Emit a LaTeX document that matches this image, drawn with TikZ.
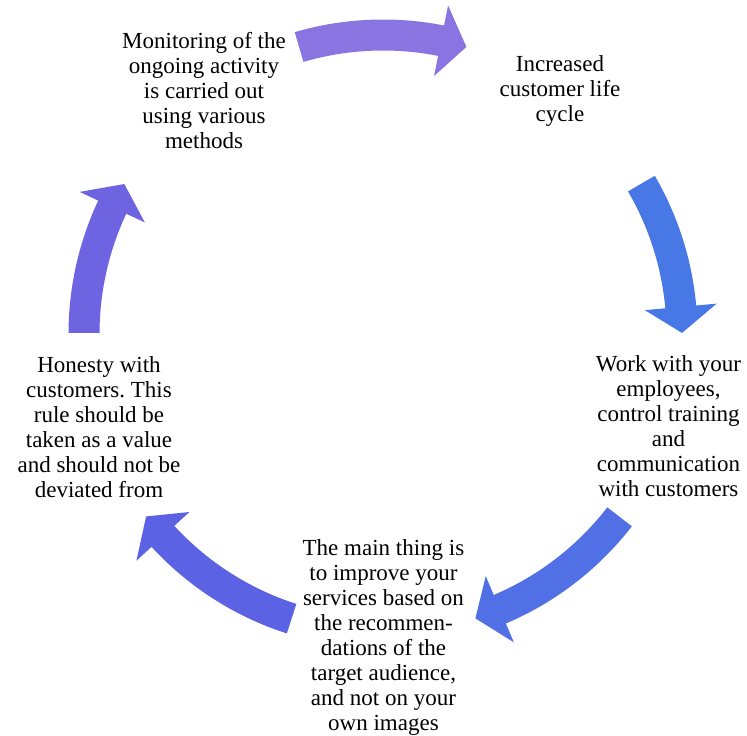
\documentclass[tikz,border=0pt]{standalone}
\usepackage{fontspec}
\setmainfont{Liberation Serif}
\frenchspacing
\definecolor{arrA}{RGB}{138,116,225}
\definecolor{arrB}{RGB}{71,120,230}
\definecolor{arrC}{RGB}{82,112,230}
\definecolor{arrD}{RGB}{92,98,228}
\definecolor{arrE}{RGB}{110,100,226}
\newcommand\cycarrow[3]{%
  \pgfmathsetmacro\cyhb{#2+5}%
  \fill[#3] (#1:314.5pt) arc[start angle=#1, end angle=\cyhb, radius=314.5pt]
    -- (\cyhb:335pt) -- (#2:299pt) -- (\cyhb:263pt) -- (\cyhb:283.5pt)
    arc[start angle=\cyhb, end angle=#1, radius=283.5pt] -- cycle;%
}
\begin{document}
\begin{tikzpicture}[x=1pt,y=1pt,
  lbl/.style={align=center, anchor=north, inner sep=0pt,
    font=\fontsize{23}{25}\selectfont\frenchspacing}]
\useasboundingbox (0,0) rectangle (747,736);
\begin{scope}[shift={(383,402)}]
  \cycarrow{106.3}{73.8}{arrA}
  \cycarrow{30.2}{0.2}{arrB}
  \cycarrow{-37.7}{-72.0}{arrC}
  \cycarrow{-107.8}{-142.4}{arrD}
  \cycarrow{179.8}{149.9}{arrE}
\end{scope}
\node[lbl] (mon) at (204,703.4) {Monitoring of the\\ongoing activity\\is carried out\\using various\\methods};
\node[lbl] (inc) at (560,680.7) {Increased\\customer life\\cycle};
\node[lbl] (work) at (668.5,380.7) {Work with your\\employees,\\control training\\and\\communication\\with customers};
\node[lbl] (main) at (383.5,196.7) {The main thing is\\to improve your\\services based on\\the recommen-\\dations of the\\target audience,\\and not on your\\own images};
\node[lbl] (hon) at (99,380) {Honesty with\\customers. This\\rule should be\\taken as a value\\and should not be\\deviated from};
\end{tikzpicture}
\end{document}
